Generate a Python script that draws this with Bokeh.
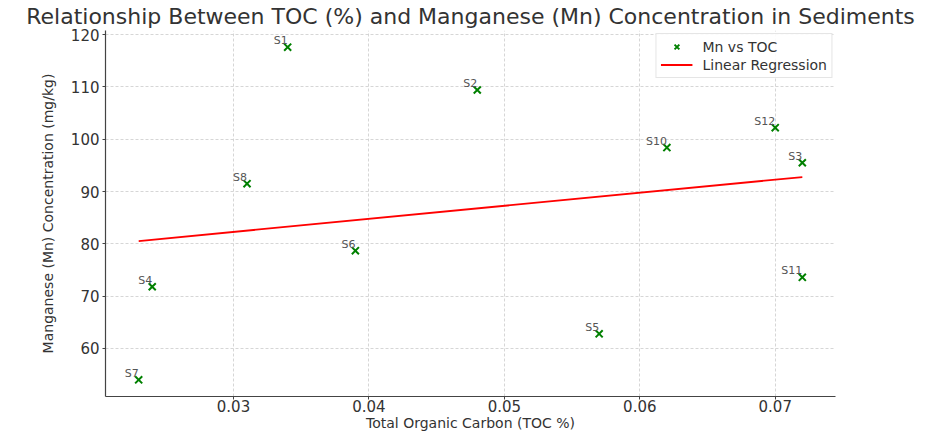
import numpy as np
from bokeh.plotting import figure
from bokeh.models import (ColumnDataSource, Range1d, FixedTicker, Legend,
                          LegendItem)
from bokeh.core.properties import value
from bokeh.embed import file_html
from bokeh.resources import INLINE

# ---- data ----
sample_labels = ["S1", "S2", "S3", "S4", "S5", "S6", "S7", "S8", "S10", "S11", "S12"]
toc_percent = [0.034, 0.048, 0.072, 0.024, 0.057, 0.039, 0.023, 0.031, 0.062, 0.072, 0.070]
mn_mgkg = [117.6, 109.4, 95.5, 71.8, 62.8, 78.7, 54.0, 91.5, 98.4, 73.6, 102.2]
x_ticks = [0.03, 0.04, 0.05, 0.06, 0.07]
y_ticks = [60, 70, 80, 90, 100, 110, 120]

TITLE = "Relationship Between TOC (%) and Manganese (Mn) Concentration in Sediments"
X_LABEL = "Total Organic Carbon (TOC %)"
Y_LABEL = "Manganese (Mn) Concentration (mg/kg)"

FONT = "DejaVu Sans"
TXT = "#333333"

# regression
slope, intercept = np.polyfit(toc_percent, mn_mgkg, 1)
x_fit = np.array([min(toc_percent), max(toc_percent)])
y_fit = slope * x_fit + intercept

def padded(vals, frac=0.05):
    lo, hi = min(vals), max(vals)
    span = hi - lo
    return lo - frac * span, hi + frac * span

xr = padded(toc_percent)
yr = padded(mn_mgkg)

p = figure(width=931, height=433, output_backend="svg", toolbar_location=None,
           x_range=Range1d(*xr), y_range=Range1d(*yr),
           min_border_left=105, min_border_right=96, min_border_bottom=0,
           min_border_top=0)

p.title.text = TITLE
p.title.align = "center"
p.title.text_font = FONT
p.title.text_font_size = "22px"
p.title.text_font_style = "normal"
p.title.text_color = TXT
p.title.standoff = 3

p.outline_line_color = None
p.background_fill_color = "white"
p.border_fill_color = "white"

# axes
for ax in (p.xaxis[0], p.yaxis[0]):
    ax.axis_line_color = "#444444"
    ax.axis_line_width = 1.2
    ax.major_tick_line_color = "#444444"
    ax.major_tick_out = 3
    ax.major_tick_in = 0
    ax.minor_tick_line_color = None
    ax.major_label_text_font = FONT
    ax.major_label_text_font_size = "15px"
    ax.major_label_text_color = TXT
    ax.axis_label_text_font = FONT
    ax.axis_label_text_font_style = "normal"
    ax.axis_label_text_color = TXT

p.xaxis.ticker = FixedTicker(ticks=x_ticks)
p.xaxis.major_label_overrides = {t: f"{t:.2f}" for t in x_ticks}
p.xaxis.major_label_standoff = 0
p.xaxis.axis_label = X_LABEL
p.xaxis.axis_label_text_font_size = "14px"
p.xaxis.axis_label_standoff = 0

p.yaxis.ticker = FixedTicker(ticks=y_ticks)
p.yaxis.major_label_standoff = 3
p.yaxis.axis_label = Y_LABEL
p.yaxis.axis_label_text_font_size = "14px"
p.yaxis.axis_label_standoff = 12

# grid
for g in (p.xgrid[0], p.ygrid[0]):
    g.grid_line_color = "#cccccc"
    g.grid_line_dash = "3 2"
    g.grid_line_width = 0.8

src = ColumnDataSource(dict(x=toc_percent, y=mn_mgkg, name=sample_labels))

line_r = p.line(x_fit, y_fit, line_color="red", line_width=1.8)
pts_r = p.scatter("x", "y", source=src, marker="x", size=10, line_color="green",
                  line_width=2)
p.text("x", "y", text="name", source=src, text_align="right",
       text_baseline="bottom", text_font=value(FONT), text_font_size="11px",
       text_color="#555555")

legend = Legend(items=[LegendItem(label="Mn vs TOC", renderers=[pts_r]),
                       LegendItem(label="Linear Regression", renderers=[line_r])],
                location="top_right")
legend.label_text_font = FONT
legend.label_text_font_size = "14px"
legend.label_text_color = TXT
legend.border_line_color = "#cccccc"
legend.border_line_width = 1
legend.background_fill_alpha = 0.9
legend.glyph_width = 32
legend.glyph_height = 17
legend.label_height = 17
legend.label_standoff = 10
legend.padding = 4
legend.spacing = 1
legend.margin = 3
p.add_layout(legend)

open("out.html", "w").write(file_html(p, INLINE))
